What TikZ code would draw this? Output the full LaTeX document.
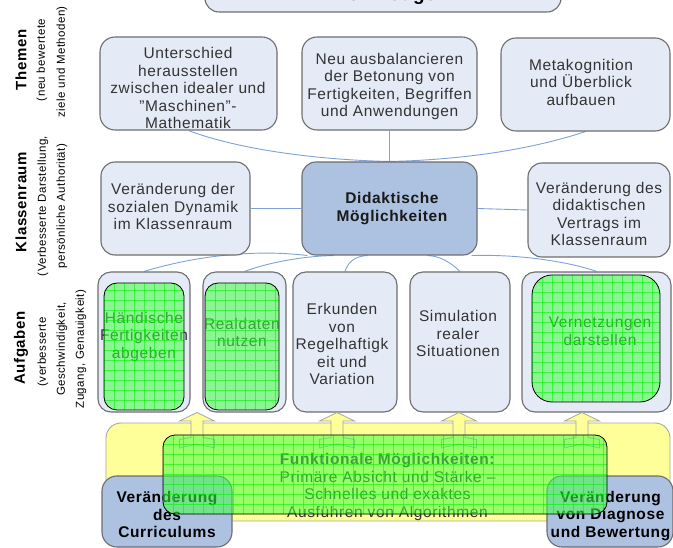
\documentclass[tikz,border=0pt]{standalone}
\usepackage{fontspec}
\setmainfont{Liberation Sans}[LetterSpace=4]
\usetikzlibrary{calc}

\definecolor{boxfill}{HTML}{E5EBF6}
\definecolor{boxline}{HTML}{6E6E6E}
\definecolor{hubfill}{HTML}{ADC1E1}
\definecolor{yelfill}{HTML}{FFFF99}
\definecolor{yelline}{HTML}{A6A6A6}
\definecolor{linkblue}{HTML}{7EA1D8}
\definecolor{hlgreen}{HTML}{40FF40}
\definecolor{gridgreen}{HTML}{00F000}
\definecolor{txt}{HTML}{333333}

\pgfdeclarelayer{paper}
\pgfdeclarelayer{links}
\pgfsetlayers{paper,links,main}

\tikzset{
  card/.style={draw=boxline, line width=1.1pt, fill=boxfill, rounded corners=14pt, inner sep=0pt},
  hub/.style={card, fill=hubfill},
  change/.style={card, fill=hubfill, rounded corners=15pt},
  base/.style={draw=yelline, line width=0.9pt, fill=yelfill, rounded corners=15pt, inner sep=0pt},
  bodytext/.style={text=txt, align=center, inner sep=0pt, font=\fontsize{15.5}{17.5}\selectfont},
  boldtext/.style={text=black, align=center, inner sep=0pt, font=\fontsize{15.5}{17.5}\selectfont\bfseries},
  rowtitle/.style={rotate=90, inner sep=0pt, font=\fontsize{15}{17}\selectfont\bfseries},
  rownote/.style={rotate=90, inner sep=0pt, font=\fontsize{11.5}{13}\selectfont},
  link/.style={draw=linkblue, line width=0.9pt},
  lift/.style={fill=yelfill, draw=yelline, line width=0.8pt, line join=miter},
  highlight/.style={draw=black, line width=0.8pt, fill=hlgreen, fill opacity=0.55,
    inner sep=0pt, rounded corners=13pt,
    path picture={
      \foreach \k in {0,...,70}{
        \draw[gridgreen, line width=0.6pt, draw opacity=0.55]
          ([xshift=\k*10pt]path picture bounding box.south west) --
          ([xshift=\k*10pt]path picture bounding box.north west)
          ([yshift=\k*10pt]path picture bounding box.south west) --
          ([yshift=\k*10pt]path picture bounding box.south east);
      }
    }},
}

\begin{document}
\begin{tikzpicture}[x=1pt,y=-1pt]
\begin{pgfonlayer}{paper}
\fill[white] (0,0) rectangle (673,548);
\end{pgfonlayer}
\useasboundingbox (0,0) rectangle (673,548);

% row labels
\node[rowtitle] (lblThemen) at (21,60) {Themen};
\node[rownote] (lblThemenA) at (42,60) {(neu bewertete};
\node[rownote] (lblThemenB) at (62,62) {ziele und Methoden)};
\node[rowtitle] (lblKlasse) at (21,202) {Klassenraum};
\node[rownote] (lblKlasseA) at (43,206) {(Verbesserte Darstellung,};
\node[rownote] (lblKlasseB) at (62,206) {persönliche Authorität)};
\node[rowtitle] (lblAufg) at (21,348) {Aufgaben};
\node[rownote] (lblAufgA) at (43,352) {(verbesserte};
\node[rownote] (lblAufgB) at (62,349) {Geschwindigkeit,};
\node[rownote] (lblAufgC) at (81,349) {Zugang, Genauigkeit)};

% tools box at the top
\node[card, minimum width=356pt, minimum height=52pt] (tools) at (383,-14) {};
\node[boldtext, anchor=base, font=\fontsize{19}{21}\selectfont\bfseries] (toolsT) at (383,0.5) {Werkzeuge};

% themes
\node[card, minimum width=177pt, minimum height=93pt, rounded corners=15pt] (themA) at (188.5,83.5) {};
\node[bodytext] (themAT) at (188,88) {Unterschied\\herausstellen\\zwischen idealer und\\"Maschinen"-\\Mathematik};
\node[card, minimum width=175pt, minimum height=93pt, rounded corners=15pt] (themB) at (389.5,83.5) {};
\node[bodytext] (themBT) at (389.5,86.5) {Neu ausbalancieren\\der Betonung von\\Fertigkeiten, Begriffen\\und Anwendungen};
\node[card, minimum width=169pt, minimum height=93pt, rounded corners=15pt] (themC) at (585.5,84.5) {};
\node[bodytext] (themCT) at (581,82) {Metakognition\\und Überblick\\aufbauen};

% classroom row
\node[card, minimum width=149pt, minimum height=93pt] (cl) at (175.5,208.5) {};
\node[bodytext] (clT) at (173,206.5) {Veränderung der\\sozialen Dynamik\\im Klassenraum};
\node[hub, minimum width=175pt, minimum height=93pt] (did) at (389.5,208.5) {};
\node[boldtext, text=black!90, font=\fontsize{15.5}{18}\selectfont\bfseries] (didT) at (392,209) {Didaktische\\Möglichkeiten};
\node[card, minimum width=142pt, minimum height=94pt] (cr) at (599,210) {};
\node[bodytext] (crT) at (599,214) {Veränderung des\\didaktischen\\Vertrags im\\Klassenraum};

% task row
\node[card, minimum width=92pt, minimum height=140pt, rounded corners=13pt] (t1) at (144,342) {};
\node[bodytext] (t1T) at (144,336.5) {Händische\\Fertigkeiten\\abgeben};
\node[card, minimum width=83pt, minimum height=140pt, rounded corners=13pt] (t2) at (244.5,342) {};
\node[bodytext] (t2T) at (242,332.5) {Realdaten\\nutzen};
\node[card, minimum width=104pt, minimum height=140pt, rounded corners=13pt] (t3) at (345,342) {};
\node[bodytext] (t3T) at (342,344) {Erkunden\\von\\Regelhaftigk\\eit und\\Variation};
\node[card, minimum width=100pt, minimum height=140pt, rounded corners=13pt] (t4) at (460,342) {};
\node[bodytext] (t4T) at (458,333.5) {Simulation\\realer\\Situationen};
\node[card, minimum width=149pt, minimum height=140pt, rounded corners=13pt] (t5) at (596.5,342) {};
\node[bodytext] (t5T) at (600,331) {Vernetzungen\\darstellen};

% highlighted tasks
\node[highlight, minimum width=80pt, minimum height=127pt] (g1) at (144,346.5) {};
\node[highlight, minimum width=74pt, minimum height=127pt] (g2) at (242,346.5) {};
\node[highlight, minimum width=128pt, minimum height=127pt, rounded corners=20pt] (g5) at (596,338.5) {};

% connectors around the hub
\begin{pgfonlayer}{links}
\draw[link] (themA.south) .. controls (240,150) and (320,160) .. (did.north);
\draw[link] (themB.south) -- (did.north);
\draw[link] (themC.south) .. controls (530,150) and (460,160) .. (did.north);
\draw[link] (cl.east) -- (did.west);
\draw[link] (did.east) -- (cr.west);
\draw[link] (t1.north) .. controls (195,256) and (255,249) .. ([xshift=6pt]did.south west);
\draw[link] (t2.north) .. controls (270,262) and (305,256) .. ([xshift=-56pt]did.south);
\draw[link] (t3.north) .. controls (348,262) and (355,256) .. ([xshift=-22pt]did.south);
\draw[link] (t4.north) .. controls (450,262) and (440,256) .. ([xshift=38pt]did.south);
\draw[link] (t5.north) .. controls (570,262) and (520,254) .. ([xshift=-6pt]did.south east);
\end{pgfonlayer}

% functional base
\node[base, minimum width=564pt, minimum height=98pt] (base) at (388,472) {};

% block arrows from the base up to the tasks
\coordinate (lift1) at (197,412.5);
\coordinate (lift2) at (337,412.5);
\coordinate (lift3) at (459,412.5);
\coordinate (lift4) at (582,412.5);
\foreach \a in {lift1,lift2,lift3,lift4}{
  \draw[lift] (\a) -- ++(17.5,8.5) -- ++(-11.5,0) -- ++(0,16.5) -- ++(11.5,2)
    -- ++(0,8.5) -- ++(-17.5,-4) -- ++(-17.5,4) -- ++(0,-8.5) -- ++(11.5,-2)
    -- ++(0,-16.5) -- ++(-11.5,0) -- cycle;
}

% curriculum and assessment
\node[change, minimum width=130pt, minimum height=71pt] (bl) at (167,511.5) {};
\node[boldtext] (blT) at (167,514.5) {Veränderung\\des\\Curriculums};
\node[change, minimum width=126pt, minimum height=71pt] (br) at (610,511.5) {};
\node[boldtext] (brT) at (610.5,516) {Veränderung\\von Diagnose\\und Bewertung};

\node[bodytext] (fmT) at (387.5,487) {\textbf{Funktionale Möglichkeiten:}\\Primäre Absicht und Stärke –\\Schnelles und exaktes\\Ausführen von Algorithmen};
\node[highlight, minimum width=444pt, minimum height=79pt, rounded corners=12pt] (gbig) at (385,474.5) {};
\end{tikzpicture}
\end{document}
